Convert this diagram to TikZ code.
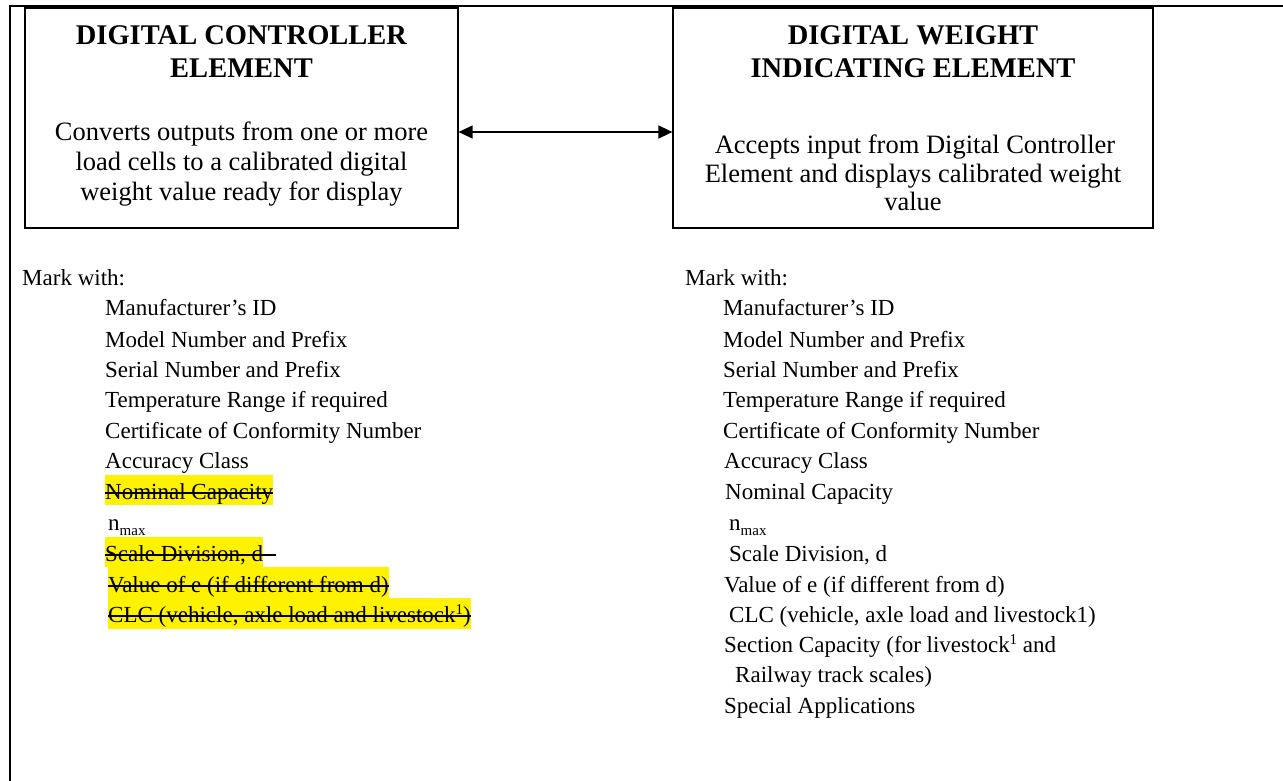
\documentclass[tikz,border=0pt]{standalone}
\usepackage{fontspec}
\setmainfont{Liberation Serif}
\usetikzlibrary{arrows.meta}
\pgfdeclarelayer{bg}
\pgfsetlayers{bg,main}
\newcommand{\subsm}[1]{\raisebox{-5pt}{\fontsize{15}{15}\selectfont #1}}
\newcommand{\supsm}[1]{\raisebox{8pt}{\fontsize{15}{15}\selectfont #1}}
\begin{document}
\begin{tikzpicture}[x=1pt,y=-1pt,
  box/.style={draw, line width=1.2pt, inner sep=0, minimum width=#1, minimum height=220pt},
  ttl/.style={anchor=base, inner sep=0, font=\fontsize{28.5}{33}\selectfont\bfseries},
  body/.style={anchor=base, inner sep=0, font=\fontsize{26.5}{30}\selectfont},
  lst/.style={anchor=base west, inner sep=0, font=\fontsize{23}{28}\selectfont},
  hl/.style={fill=yellow},
  strike/.style={line width=1.8pt},
  frame/.style={line width=2pt},
  link/.style={line width=1.3pt, {Triangle[length=14pt,width=13pt]}-{Triangle[length=14pt,width=13pt]}}
]
\useasboundingbox (0,0) rectangle (1283,780);
\draw[frame] (10,781) -- (10,5.5) -- (1284,5.5);

% boxes
\node[box=433pt] (b1) at (241.5,118) {};
\node[box=480pt] (b2) at (913,118) {};

\node[ttl] (t1a) at (241.5,44) {DIGITAL CONTROLLER};
\node[ttl] (t1b) at (241.5,77) {ELEMENT};
\node[body] (d1a) at (241.5,140) {Converts outputs from one or more};
\node[body] (d1b) at (241.5,170) {load cells to a calibrated digital};
\node[body] (d1c) at (241.5,200) {weight value ready for display};

\node[ttl] (t2a) at (913,44) {DIGITAL WEIGHT};
\node[ttl] (t2b) at (913,77) {INDICATING ELEMENT};
\node[body] (d2a) at (915,153) {Accepts input from Digital Controller};
\node[body] (d2b) at (913,182) {Element and displays calibrated weight};
\node[body] (d2c) at (913,210) {value};

\draw[link] ([yshift=-14pt]b1.east) -- ([yshift=-14pt]b2.west);

% left list
\node[lst] (lm) at (22,285) {Mark with:};
\node[lst] (l1) at (105,315) {Manufacturer’s ID};
\node[lst] (l2) at (105,347) {Model Number and Prefix};
\node[lst] (l3) at (105,377) {Serial Number and Prefix};
\node[lst] (l4) at (105,407) {Temperature Range if required};
\node[lst] (l5) at (105,438) {Certificate of Conformity Number};
\node[lst] (l6) at (105,468) {Accuracy Class};
\node[lst] (l7) at (105,499) {Nominal Capacity};
\node[lst] (l8) at (108,530) {n\subsm{max}};
\node[lst] (l9) at (105,561) {Scale Division, d};
\node[lst] (l10) at (108,592) {Value of e (if different from d)};
\node[lst] (l11) at (108,622) {CLC (vehicle, axle load and livestock\supsm{1})};

\begin{pgfonlayer}{bg}
  \fill[hl] ([yshift=-6pt]l7.base west) rectangle ([yshift=24pt]l7.base east);
  \fill[hl] ([yshift=-6pt]l9.base west) rectangle ([yshift=24pt]l9.base east);
  \fill[hl] ([yshift=-6pt]l10.base west) rectangle ([yshift=25pt]l10.base east);
  \fill[hl] ([yshift=-7pt]l11.base west) rectangle ([yshift=24pt]l11.base east);
\end{pgfonlayer}
\draw[strike] ([yshift=6pt]l7.base west) -- ([yshift=6pt]l7.base east);
\draw[strike] ([yshift=6pt]l9.base west) -- ([xshift=13pt,yshift=6pt]l9.base east);
\draw[strike] ([yshift=6pt]l10.base west) -- ([yshift=6pt]l10.base east);
\draw[strike] ([yshift=6pt]l11.base west) -- ([yshift=6pt]l11.base east);

% right list
\node[lst] (rm) at (685,285) {Mark with:};
\node[lst] (r1) at (723,315) {Manufacturer’s ID};
\node[lst] (r2) at (723,347) {Model Number and Prefix};
\node[lst] (r3) at (723,377) {Serial Number and Prefix};
\node[lst] (r4) at (723,407) {Temperature Range if required};
\node[lst] (r5) at (723,438) {Certificate of Conformity Number};
\node[lst] (r6) at (724,468) {Accuracy Class};
\node[lst] (r7) at (725,499) {Nominal Capacity};
\node[lst] (r8) at (729,530) {n\subsm{max}};
\node[lst] (r9) at (729,561) {Scale Division, d};
\node[lst] (r10) at (724,592) {Value of e (if different from d)};
\node[lst] (r11) at (729,622) {CLC (vehicle, axle load and livestock1)};
\node[lst] (r12) at (724,652) {Section Capacity (for livestock\supsm{1} and};
\node[lst] (r13) at (735,682) {Railway track scales)};
\node[lst] (r14) at (724,713) {Special Applications};
\end{tikzpicture}
\end{document}
